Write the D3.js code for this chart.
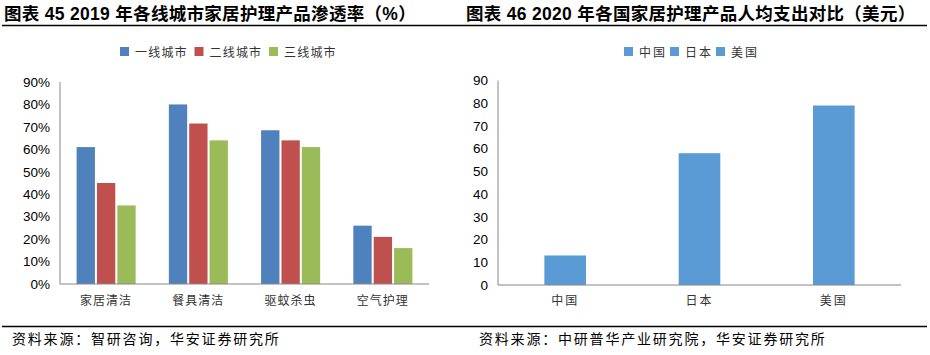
<!DOCTYPE html>
<html>
<head>
<meta charset="utf-8">
<script src="https://cdn.jsdelivr.net/npm/d3@7"></script>
<style>
  body { margin: 0; background: #fff; }
  svg { display: block; }
  .title { font-family: "Liberation Sans", "Noto Sans CJK SC", sans-serif; font-weight: bold; font-size: 17.5px; fill: #000; letter-spacing: 0.3px; }
  .cjk { font-family: "Noto Sans CJK SC", sans-serif; font-size: 12px; fill: #333; }
  .src { font-family: "Noto Sans CJK SC", sans-serif; font-size: 14px; fill: #000; letter-spacing: 1.8px; }
  .axis text { font-family: "Liberation Sans", Arial, sans-serif; font-size: 13.5px; fill: #000; }
  .axis path { stroke: #868686; }
</style>
</head>
<body>
<svg width="930" height="355"></svg>
<script>
// left chart: 2019 penetration by city tier
const cats1 = ['家居清洁', '餐具清洁', '驱蚊杀虫', '空气护理'];
const tiers = ['一线城市', '二线城市', '三线城市'];
const tier1 = [0.61, 0.80, 0.685, 0.26];
const tier2 = [0.45, 0.715, 0.64, 0.21];
const tier3 = [0.35, 0.64, 0.61, 0.16];
const ticks1 = [0, 0.1, 0.2, 0.3, 0.4, 0.5, 0.6, 0.7, 0.8, 0.9];

// right chart: 2020 per-capita spending (USD)
const countries = ['中国', '日本', '美国'];
const spend = [13, 58, 79];
const ticks2 = [0, 10, 20, 30, 40, 50, 60, 70, 80, 90];

const colors1 = ['#4F81BD', '#C0504D', '#9BBB59'];
const color2 = '#5B9BD5';

const svg = d3.select('svg');

// titles and rules
svg.append('text').attr('class', 'title').attr('x', 4).attr('y', 20)
    .text('图表 45 2019 年各线城市家居护理产品渗透率（%）');
svg.append('text').attr('class', 'title').attr('x', 466).attr('y', 20)
    .text('图表 46 2020 年各国家居护理产品人均支出对比（美元）');
svg.append('line').attr('x1', 2).attr('x2', 927).attr('y1', 25.5).attr('y2', 25.5)
    .attr('stroke', '#000').attr('stroke-width', 1.5);
svg.append('line').attr('x1', 2).attr('x2', 927).attr('y1', 326.5).attr('y2', 326.5)
    .attr('stroke', '#000').attr('stroke-width', 1.5);
svg.append('text').attr('class', 'src').attr('x', 12).attr('y', 344)
    .text('资料来源：智研咨询，华安证券研究所');
svg.append('text').attr('class', 'src').attr('x', 479).attr('y', 344)
    .text('资料来源：中研普华产业研究院，华安证券研究所');

// ---- left chart ----
const x1 = d3.scaleBand().domain(cats1).range([60, 429]).paddingInner(0.36).paddingOuter(0.18);
const xs1 = d3.scaleBand().domain(tiers).range([0, x1.bandwidth()]).paddingInner(0.1);
const y1 = d3.scaleLinear().domain([0, 0.9]).range([284, 82]);

const rows = cats1.map((c, i) => ({ cat: c, vals: [tier1[i], tier2[i], tier3[i]] }));

const g1 = svg.append('g');
g1.selectAll('g.grp').data(rows).enter().append('g')
    .attr('transform', d => `translate(${x1(d.cat)},0)`)
    .selectAll('rect').data(d => d.vals.map((v, j) => ({ tier: tiers[j], v, j })))
    .enter().append('rect')
    .attr('x', d => xs1(d.tier))
    .attr('width', xs1.bandwidth())
    .attr('y', d => y1(d.v))
    .attr('height', d => y1(0) - y1(d.v))
    .attr('fill', d => colors1[d.j]);

g1.append('g').attr('class', 'axis').attr('transform', 'translate(60,0)')
    .call(d3.axisLeft(y1).tickValues(ticks1).tickFormat(d3.format('.0%')).tickSize(0).tickPadding(10))
    .call(g => g.select('.domain').attr('d', 'M0,82V284'));
g1.append('g').attr('class', 'axis').attr('transform', 'translate(0,284)')
    .call(d3.axisBottom(x1).tickSize(0).tickFormat(''))
    .call(g => g.select('.domain').attr('d', 'M60,0H429'));
g1.selectAll('text.xl').data(cats1).enter().append('text')
    .attr('class', 'cjk xl').attr('text-anchor', 'middle').attr('letter-spacing', 1)
    .attr('x', d => x1(d) + x1.bandwidth() / 2).attr('y', 305).text(d => d);

// legend left
const lg1 = svg.append('g').selectAll('g').data(tiers).enter().append('g')
    .attr('transform', (d, i) => `translate(${120 + i * 74.5},47)`);
lg1.append('rect').attr('width', 9).attr('height', 9).attr('fill', (d, i) => colors1[i]);
lg1.append('text').attr('class', 'cjk').attr('x', 15).attr('y', 9.5).attr('letter-spacing', 1.2).text(d => d);

// ---- right chart ----
const x2 = d3.scaleBand().domain(countries).range([498, 901]).paddingInner(0.69).paddingOuter(0.345);
const y2 = d3.scaleLinear().domain([0, 90]).range([285, 80.5]);

svg.append('g').selectAll('rect').data(countries).enter().append('rect')
    .attr('x', d => x2(d)).attr('width', x2.bandwidth())
    .attr('y', (d, i) => y2(spend[i]))
    .attr('height', (d, i) => y2(0) - y2(spend[i]))
    .attr('fill', color2);

svg.append('g').attr('class', 'axis').attr('transform', 'translate(498,0)')
    .call(d3.axisLeft(y2).tickValues(ticks2).tickSize(0).tickPadding(10))
    .call(g => g.select('.domain').attr('d', 'M0,80.5V285'));
svg.append('g').attr('class', 'axis').attr('transform', 'translate(0,285)')
    .call(d3.axisBottom(x2).tickSize(0).tickFormat(''))
    .call(g => g.select('.domain').attr('d', 'M498,0H901'));
svg.selectAll('text.xl2').data(countries).enter().append('text')
    .attr('class', 'cjk xl2').attr('text-anchor', 'middle').attr('letter-spacing', 2)
    .attr('x', d => x2(d) + x2.bandwidth() / 2).attr('y', 305).text(d => d);

// legend right
const lg2 = svg.append('g').selectAll('g').data(countries).enter().append('g')
    .attr('transform', (d, i) => `translate(${624 + i * 46},47)`);
lg2.append('rect').attr('width', 9).attr('height', 9).attr('fill', color2);
lg2.append('text').attr('class', 'cjk').attr('x', 15).attr('y', 9.5).attr('letter-spacing', 2).text(d => d);
</script>
</body>
</html>
